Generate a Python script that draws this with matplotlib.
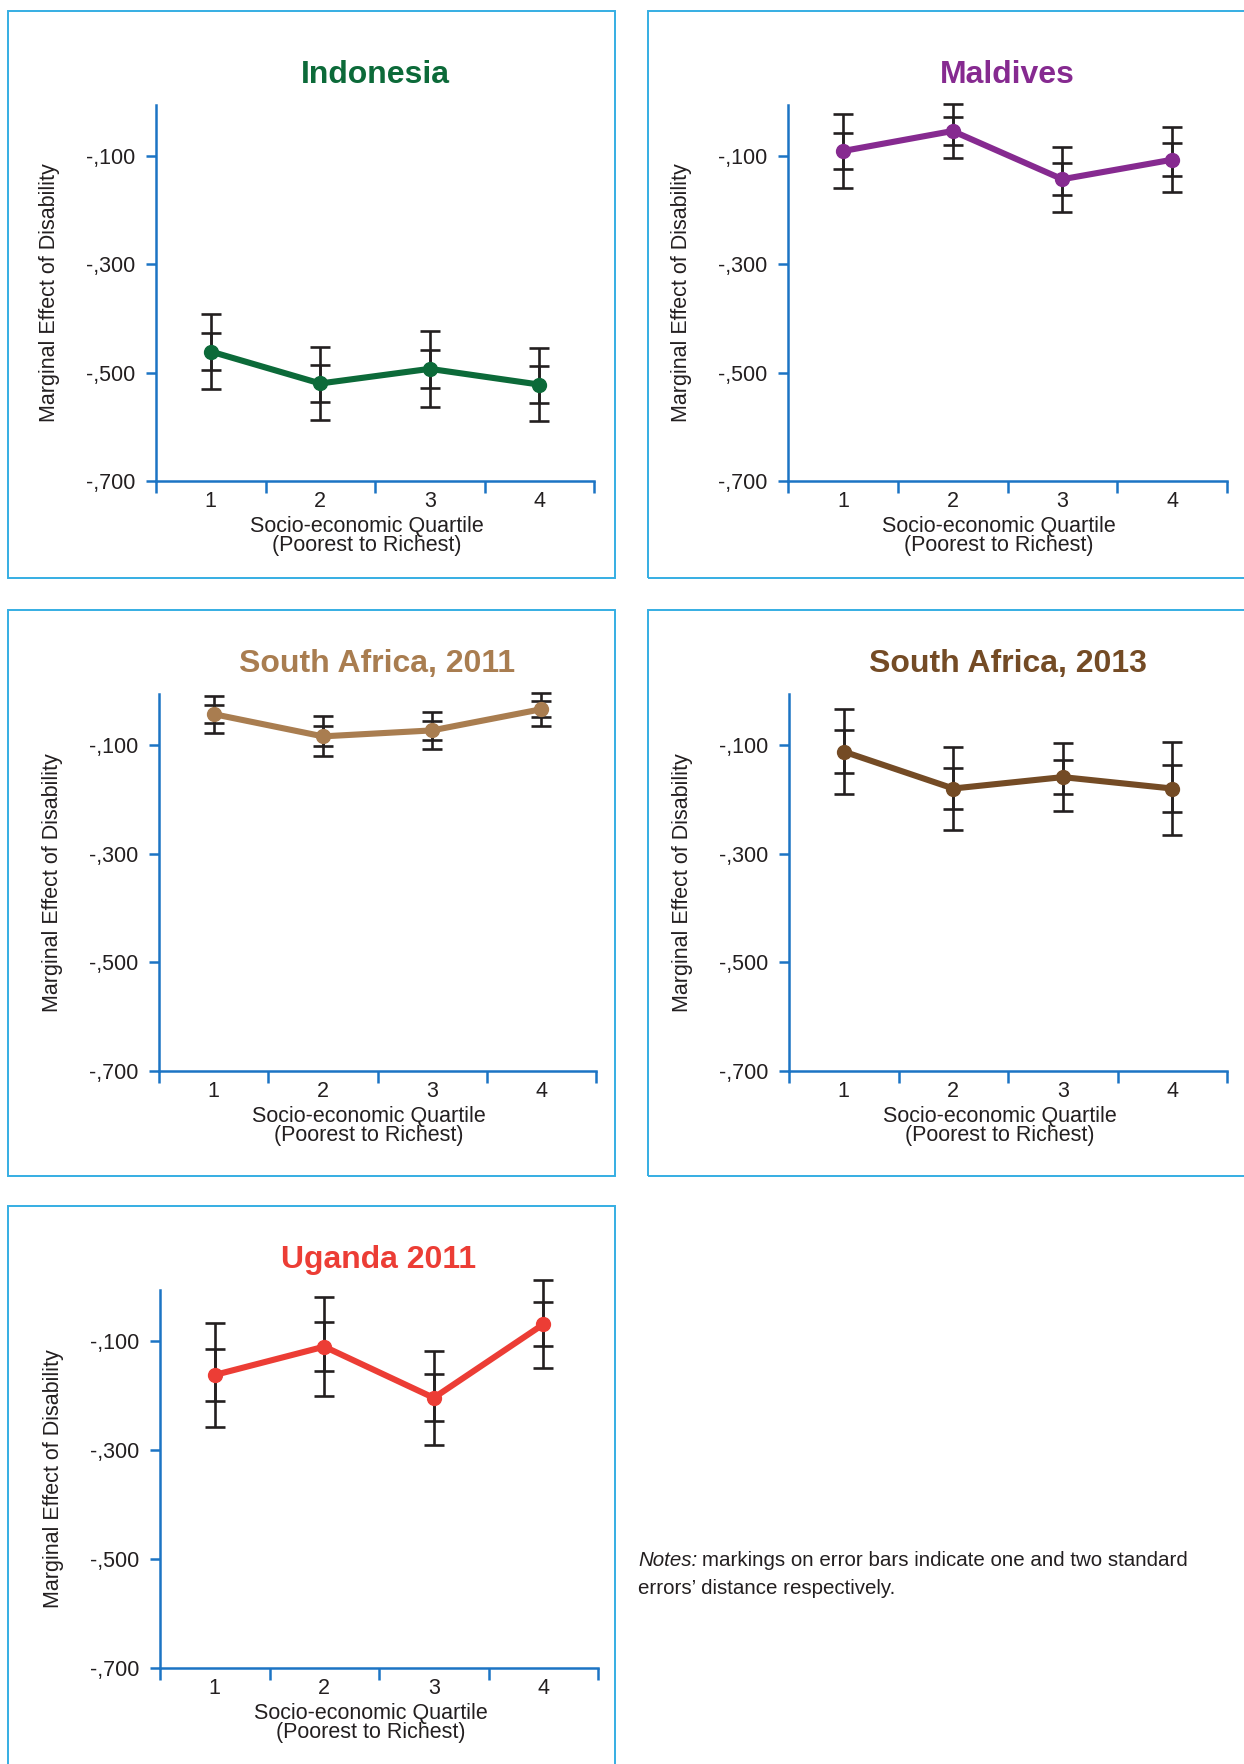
import matplotlib
matplotlib.use('Agg')
import matplotlib.pyplot as plt
import matplotlib.font_manager as fm
from matplotlib.patches import Rectangle

# ---------------- data ----------------
quartiles = [1, 2, 3, 4]
quartile_labels = ['1', '2', '3', '4']
y_ticks = [-0.1, -0.3, -0.5, -0.7]
y_tick_labels = ['-,100', '-,300', '-,500', '-,700']

titles = ['Indonesia', 'Maldives', 'South Africa, 2011', 'South Africa, 2013', 'Uganda 2011']

indonesia_est = [-0.461, -0.520, -0.493, -0.522]
indonesia_se = [0.035, 0.034, 0.035, 0.034]

maldives_est = [-0.091, -0.054, -0.143, -0.107]
maldives_se = [0.034, 0.025, 0.030, 0.030]

sa2011_est = [-0.043, -0.084, -0.073, -0.034]
sa2011_se = [0.017, 0.0185, 0.017, 0.015]

sa2013_est = [-0.112, -0.180, -0.159, -0.180]
sa2013_se = [0.039, 0.038, 0.031, 0.043]

uganda_est = [-0.162, -0.110, -0.204, -0.069]
uganda_se = [0.048, 0.0455, 0.043, 0.0405]

x_label_1 = 'Socio-economic Quartile'
x_label_2 = '(Poorest to Richest)'
y_label = 'Marginal Effect of Disability'

# ---------------- style ----------------
W, H, DPI = 1244, 1764, 100
AXIS = '#1c74c4'
BOX = '#35aee3'
INK = '#231f20'
colors = ['#0c6a39', '#862a90', '#a97d50', '#744b25', '#ec3d35']

# panel layout in pixels: axes (left, top, right, bottom), box (left, top, right, bottom)
axes_px = [(156, 105, 594, 481), (788, 105, 1227, 481),
           (159, 694, 596, 1071), (789, 694, 1227, 1071),
           (160, 1290, 598, 1668)]
box_px = [(8, 11, 615, 578), (648, 11, 1252, 578),
          (8, 610, 615, 1176), (648, 610, 1252, 1176),
          (8, 1206, 615, 1772)]

names = {f.name for f in fm.fontManager.ttflist}
BASE = 'Liberation Sans' if 'Liberation Sans' in names else 'DejaVu Sans'
NARROW = 'Liberation Sans Narrow' if 'Liberation Sans Narrow' in names else None
plt.rcParams['font.family'] = [BASE, 'DejaVu Sans']

if NARROW:
    title_font = dict(family=[NARROW, BASE], fontsize=27, fontweight='bold')
    note_font = dict(family=[NARROW, BASE], fontsize=17)
else:
    title_font = dict(family=[BASE], fontsize=23, fontweight='bold')
    note_font = dict(family=[BASE], fontsize=14.8)

fig = plt.figure(figsize=(W / DPI, H / DPI), dpi=DPI)
fig.patch.set_facecolor('white')

series = [(indonesia_est, indonesia_se), (maldives_est, maldives_se),
          (sa2011_est, sa2011_se), (sa2013_est, sa2013_se),
          (uganda_est, uganda_se)]

for i, (title, (est, se), color) in enumerate(zip(titles, series, colors)):
    bl, bt, br, bb = box_px[i]
    fig.add_artist(Rectangle((bl / W, 1 - bb / H), (br - bl) / W, (bb - bt) / H,
                             transform=fig.transFigure, fill=False,
                             edgecolor=BOX, lw=1.4, clip_on=False))
    l, t, r, b = axes_px[i]
    ax = fig.add_axes([l / W, 1 - b / H, (r - l) / W, (b - t) / H])
    ax.patch.set_alpha(0)
    ax.set_xlim(0.5, 4.5)
    ax.set_ylim(-0.7, -0.006)
    for s in ['top', 'right']:
        ax.spines[s].set_visible(False)
    for s in ['left', 'bottom']:
        ax.spines[s].set_color(AXIS)
        ax.spines[s].set_linewidth(1.8)

    ax.set_xticks([0.5, 1.5, 2.5, 3.5, 4.5])
    ax.set_xticklabels([])
    ax.set_xticks(quartiles, minor=True)
    ax.set_xticklabels(quartile_labels, minor=True)
    ax.tick_params(axis='x', which='major', direction='out', length=8.5, width=1.8, color=AXIS)
    ax.tick_params(axis='x', which='minor', length=0, pad=7, labelsize=15.5, labelcolor=INK)
    ax.set_yticks(y_ticks)
    ax.set_yticklabels(y_tick_labels)
    ax.tick_params(axis='y', direction='out', length=7, width=1.8, color=AXIS,
                   pad=8, labelsize=15.5, labelcolor=INK)

    two_se = [2 * v for v in se]
    for err in (two_se, se):
        cont = ax.errorbar(quartiles, est, yerr=err, fmt='none', ecolor=INK,
                           elinewidth=1.9, capsize=7.5, capthick=1.9, zorder=3)
        for child in cont.get_children():
            child.set_clip_on(False)
    ax.plot(quartiles, est, color=color, lw=4.4, marker='o', ms=10,
            zorder=5, clip_on=False, solid_capstyle='round')

    ax.annotate(title, xy=(0.5, 1), xycoords='axes fraction', xytext=(0, 16),
                textcoords='offset points', ha='center', va='baseline',
                color=color, **title_font)
    ax.annotate(x_label_1, xy=(0.5, 0), xycoords='axes fraction', xytext=(-6, -33),
                textcoords='offset points', ha='center', va='center',
                fontsize=15.5, color=INK)
    ax.annotate(x_label_2, xy=(0.5, 0), xycoords='axes fraction', xytext=(-6, -46.5),
                textcoords='offset points', ha='center', va='center',
                fontsize=15.5, color=INK)
    ax.annotate(y_label, xy=(0, 0.5), xycoords='axes fraction', xytext=(-77, 0),
                textcoords='offset points', ha='center', va='center',
                rotation=90, fontsize=15.5, color=INK)

# notes
renderer = fig.canvas.get_renderer()
t1 = fig.text(638 / W, 1 - 1561 / H, 'Notes:', style='italic', ha='left', va='center',
              color=INK, **note_font)
x1 = t1.get_window_extent(renderer).x1
fig.text((x1 + 5) / W, 1 - 1561 / H, 'markings on error bars indicate one and two standard',
         ha='left', va='center', color=INK, **note_font)
fig.text(638 / W, 1 - 1589 / H, 'errors\u2019 distance respectively.',
         ha='left', va='center', color=INK, **note_font)

fig.savefig('out.png', dpi=DPI, facecolor='white')
